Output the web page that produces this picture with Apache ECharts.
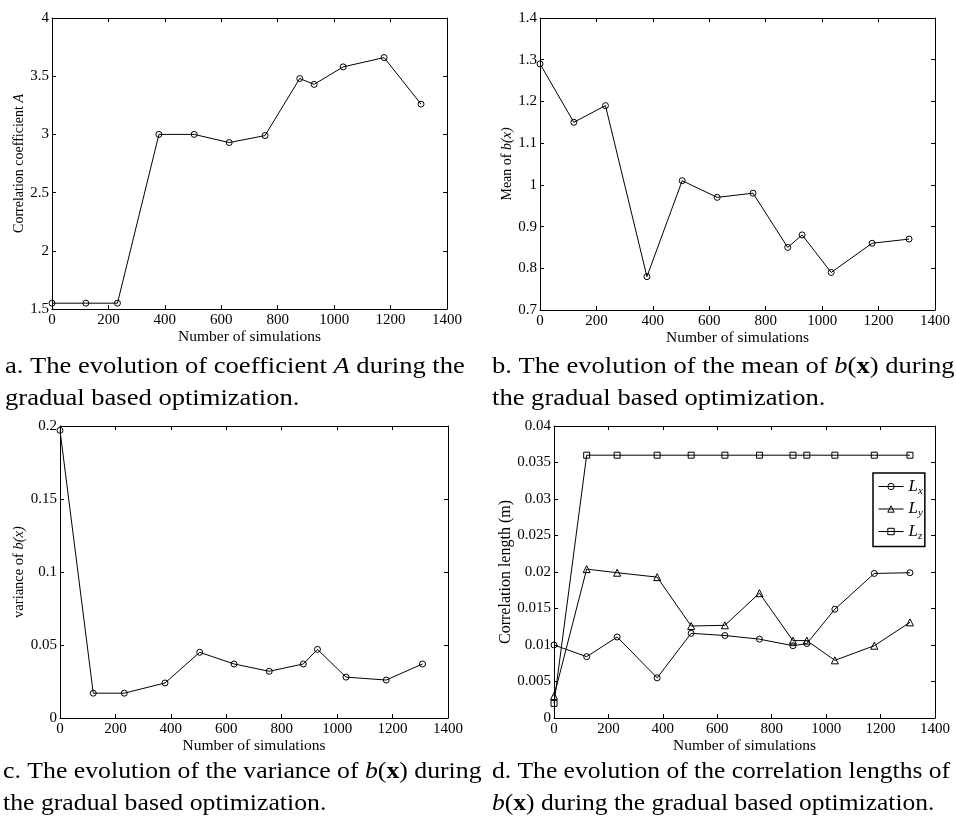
<!DOCTYPE html>
<html>
<head>
<meta charset="utf-8">
<script src="https://cdn.jsdelivr.net/npm/echarts@6/dist/echarts.min.js"></script>
<style>
html,body{margin:0;padding:0;background:#fff;}
#chart{width:956px;height:819px;}
</style>
</head>
<body>
<div id="chart"></div>
<script>
// ---- data ----
const simulations = [0, 120, 232, 379, 504, 628, 755, 878, 929, 1032, 1177, 1308];
const coefA = [1.55, 1.55, 1.55, 3.0, 3.0, 2.93, 2.99, 3.48, 3.43, 3.58, 3.66, 3.26];
const meanB = [1.29, 1.15, 1.19, 0.78, 1.01, 0.97, 0.98, 0.85, 0.88, 0.79, 0.86, 0.87];
const varB = [0.197, 0.017, 0.017, 0.024, 0.045, 0.037, 0.032, 0.037, 0.047, 0.028, 0.026, 0.037];
const lenLx = [0.0100, 0.0084, 0.0111, 0.0055, 0.0116, 0.0113, 0.0108, 0.0099, 0.0102, 0.0149, 0.0198, 0.0199];
const lenLy = [0.0030, 0.0204, 0.0199, 0.0193, 0.0126, 0.0127, 0.0171, 0.0106, 0.0106, 0.0079, 0.0099, 0.0131];
const lenLz = [0.0020, 0.036, 0.036, 0.036, 0.036, 0.036, 0.036, 0.036, 0.036, 0.036, 0.036, 0.036];
const xTicks = {min: 0, max: 1400, interval: 200};
const yTicksA = {min: 1.5, max: 4, interval: 0.5};
const yTicksB = {min: 0.7, max: 1.4, interval: 0.1};
const yTicksC = {min: 0, max: 0.2, interval: 0.05};
const yTicksD = {min: 0, max: 0.04, interval: 0.005};

const FONT = '"Liberation Serif", "Times New Roman", serif';
const zip = (xs, ys) => xs.map((x, i) => [x, ys[i]]);

const grids = [
  {left: 52, top: 18, width: 395, height: 291},
  {left: 540, top: 18, width: 395, height: 292},
  {left: 60, top: 426, width: 388, height: 292},
  {left: 554, top: 426, width: 381, height: 292}
];
const yTicks = [yTicksA, yTicksB, yTicksC, yTicksD];
const yNames = [
  'Correlation coefficient {i|A}',
  'Mean of {i|b(x)}',
  'variance of {i|b(x)}',
  'Correlation length (m)'
];
const yNameGaps = [25, 25, 32, 39];
const yNameSizes = [14, 14, 14.5, 16];

const xAxes = [], yAxes = [];
grids.forEach((g, i) => {
  const common = {
    gridIndex: i, type: 'value', min: xTicks.min, max: xTicks.max, interval: xTicks.interval,
    axisLine: {show: true, onZero: false, lineStyle: {color: '#000', width: 1}},
    axisTick: {show: true, inside: true, length: 4, lineStyle: {color: '#000'}},
    splitLine: {show: false}
  };
  xAxes.push(Object.assign({}, common, {
    position: 'bottom',
    axisLabel: {color: '#000', fontFamily: FONT, fontSize: 15, margin: 4, formatter: v => String(v)},
    name: 'Number of simulations', nameLocation: 'middle', nameGap: 16,
    nameTextStyle: {color: '#000', fontFamily: FONT, fontSize: 15.5}
  }));
  xAxes.push(Object.assign({}, common, {position: 'top', axisLabel: {show: false}}));
  const yt = yTicks[i];
  const ycommon = {
    gridIndex: i, type: 'value', min: yt.min, max: yt.max, interval: yt.interval,
    axisLine: {show: true, onZero: false, lineStyle: {color: '#000', width: 1}},
    axisTick: {show: true, inside: true, length: 4, lineStyle: {color: '#000'}},
    splitLine: {show: false}
  };
  yAxes.push(Object.assign({}, ycommon, {
    position: 'left',
    axisLabel: {color: '#000', fontFamily: FONT, fontSize: 15, margin: 3},
    name: yNames[i], nameLocation: 'middle', nameGap: yNameGaps[i], nameRotate: 90,
    nameTextStyle: {color: '#000', fontFamily: FONT, fontSize: yNameSizes[i],
      rich: {i: {fontStyle: 'italic', fontFamily: FONT, fontSize: yNameSizes[i], color: '#000'}}}
  }));
  yAxes.push(Object.assign({}, ycommon, {position: 'right', axisLabel: {show: false}}));
});

function lineSeries(name, gi, ys, symbol) {
  return {
    name: name, type: 'line', xAxisIndex: gi * 2, yAxisIndex: gi * 2,
    data: zip(simulations, ys), symbol: symbol, symbolSize: symbol === 'triangle' ? 7 : 6,
    showSymbol: true, animation: false,
    lineStyle: {color: '#000', width: 1},
    itemStyle: {color: 'rgba(255,255,255,0)', borderColor: '#000', borderWidth: 1}
  };
}

const series = [
  lineSeries('A', 0, coefA, 'circle'),
  lineSeries('mean', 1, meanB, 'circle'),
  lineSeries('var', 2, varB, 'circle'),
  lineSeries('Lx', 3, lenLx, 'circle'),
  lineSeries('Ly', 3, lenLy, 'triangle'),
  lineSeries('Lz', 3, lenLz, 'rect')
];

const legendNames = {Lx: 'x', Ly: 'y', Lz: 'z'};

const CAP = 23, CAPLH = 32;
const capRich = {
  n: {fontFamily: FONT, fontSize: CAP, color: '#000', lineHeight: CAPLH},
  i: {fontFamily: FONT, fontSize: CAP, color: '#000', fontStyle: 'italic', lineHeight: CAPLH},
  b: {fontFamily: FONT, fontSize: CAP, color: '#000', fontWeight: 'bold', lineHeight: CAPLH}
};
function caption(x, y, sx, text) {
  return {type: 'text', x: x, y: y, scaleX: sx, style: {text: text, rich: capRich, fill: '#000'}};
}

const option = {
  backgroundColor: '#fff',
  animation: false,
  grid: grids.map(g => Object.assign({containLabel: false}, g)),
  xAxis: xAxes,
  yAxis: yAxes,
  legend: {
    data: ['Lx', 'Ly', 'Lz'],
    orient: 'vertical', left: 873, top: 473,
    itemWidth: 25, itemHeight: 8, itemGap: 4,
    padding: [5, 2, 5, 5],
    borderColor: '#000', borderWidth: 1.5, backgroundColor: '#fff',
    lineStyle: {width: 1},
    itemStyle: {borderWidth: 1},
    formatter: n => '{L|L}{s|' + legendNames[n] + '}',
    textStyle: {
      color: '#000',
      rich: {
        L: {fontFamily: FONT, fontStyle: 'italic', fontSize: 17, color: '#000', lineHeight: 20},
        s: {fontFamily: FONT, fontStyle: 'italic', fontSize: 11, color: '#000', lineHeight: 12, verticalAlign: 'bottom'}
      }
    },
    selectedMode: false
  },
  graphic: [
    caption(5, 351, 1.155, '{n|a. The evolution of coefficient }{i|A}{n| during the}\n{n|gradual based optimization.}'),
    caption(492, 351, 1.155, '{n|b. The evolution of the mean of }{i|b}{n|(}{b|x}{n|) during}\n{n|the gradual based optimization.}'),
    caption(3, 756, 1.12, '{n|c. The evolution of the variance of }{i|b}{n|(}{b|x}{n|) during}\n{n|the gradual based optimization.}'),
    caption(492, 756, 1.11, '{n|d. The evolution of the correlation lengths of}\n{i|b}{n|(}{b|x}{n|) during the gradual based optimization.}')
  ],
  series: series
};

const chart = echarts.init(document.getElementById('chart'), null, {renderer: 'canvas'});
chart.setOption(option);
</script>
</body>
</html>
